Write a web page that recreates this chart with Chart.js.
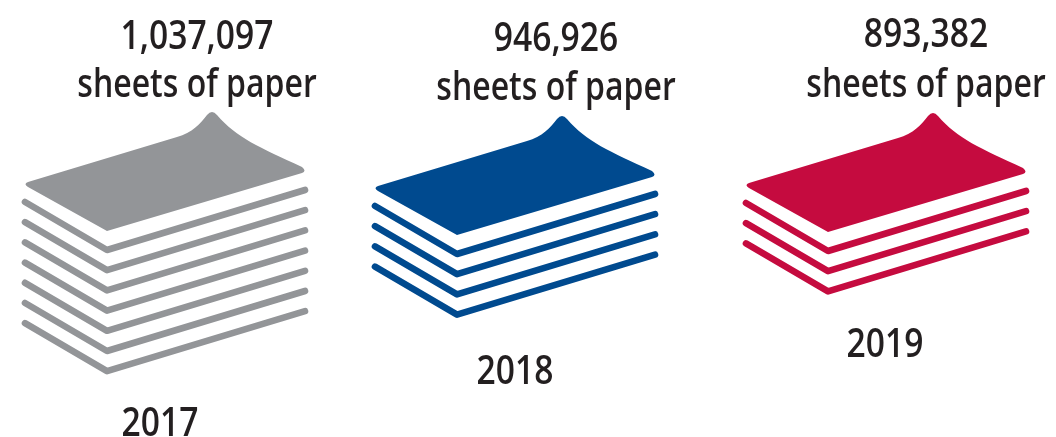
<!DOCTYPE html>
<html>
<head>
<meta charset="utf-8">
<title>Sheets of paper per year</title>
<style>
  html, body { margin: 0; padding: 0; background: #fff; }
  canvas { display: block; }
</style>
<script src="https://cdn.jsdelivr.net/npm/chart.js@4/dist/chart.umd.min.js"></script>
</head>
<body>
<canvas id="chart" width="1056" height="437"></canvas>
<script>
// Yearly paper use
const years = ['2017', '2018', '2019'];
const sheets = [1037097, 946926, 893382];
// Loose sheets drawn under the top sheet of each pile
const looseSheets = [7, 4, 3];
const pileColors = ['#939598', '#004a8f', '#c50b3f'];

// One unit on the y axis is one sheet in a pile
const SHEET_GAP = 20.2;
const ORIGIN_Y = 231;
const PLOT_HEIGHT = 437;

// Where each pile and its captions sit relative to its category centre
const placement = [
  { dx: -69, dy: 0,  captionX: 197, valueY: 49, unitY: 97,  yearX: 160, yearY: 436 },
  { dx: -71, dy: 4,  captionX: 556, valueY: 51, unitY: 100, yearX: 515, yearY: 384 },
  { dx: -52, dy: 1,  captionX: 926, valueY: 47, unitY: 97,  yearX: 885, yearY: 357 }
];

const FONT = '600 40px "Open Sans", sans-serif';
const WORD_SQUEEZE = 0.8;
const DIGIT_SQUEEZE = 0.84;
const INK = '#231f20';

// Narrow caption text, centred on x
function caption(ctx, text, x, y, squeeze) {
  ctx.save();
  ctx.translate(x, y);
  ctx.scale(squeeze, 1);
  ctx.fillText(text, 0, 0);
  ctx.restore();
}

// Top sheet with its curled corner, in pixels from the front vertex
function traceTopSheet(ctx, x, y) {
  ctx.beginPath();
  ctx.moveTo(x, y);
  ctx.lineTo(x - 79, y - 44);
  ctx.quadraticCurveTo(x - 84, y - 47, x - 79, y - 49);
  ctx.lineTo(x + 70, y - 94);
  ctx.bezierCurveTo(x + 85, y - 98, x + 94, y - 108, x + 100, y - 116);
  ctx.quadraticCurveTo(x + 105, y - 122, x + 110, y - 116);
  ctx.bezierCurveTo(x + 130, y - 93, x + 152, y - 84, x + 195, y - 64);
  ctx.quadraticCurveTo(x + 200, y - 60, x + 195, y - 58);
  ctx.closePath();
}

const paperPiles = {
  id: 'paperPiles',
  afterDatasetsDraw(chart) {
    const { ctx, scales: { y: yScale } } = chart;
    const bars = chart.getDatasetMeta(0).data;
    bars.forEach((bar, i) => {
      const place = placement[i];
      const vx = bar.x + place.dx;
      const color = pileColors[i];
      ctx.save();
      ctx.fillStyle = color;
      ctx.strokeStyle = color;
      traceTopSheet(ctx, vx, yScale.getPixelForValue(0) + place.dy);
      ctx.fill();
      ctx.lineWidth = 6.6;
      ctx.lineCap = 'round';
      ctx.lineJoin = 'round';
      for (let n = 1; n <= looseSheets[i]; n++) {
        const vy = yScale.getPixelForValue(n) + place.dy - 1.2;
        ctx.beginPath();
        ctx.moveTo(vx - 82, vy - 48);
        ctx.lineTo(vx, vy);
        ctx.lineTo(vx + 198, vy - 60);
        ctx.stroke();
      }
      ctx.fillStyle = INK;
      ctx.font = FONT;
      ctx.textAlign = 'center';
      ctx.textBaseline = 'alphabetic';
      caption(ctx, sheets[i].toLocaleString('en-US'), place.captionX, place.valueY, DIGIT_SQUEEZE);
      caption(ctx, 'sheets of paper', place.captionX, place.unitY, WORD_SQUEEZE);
      caption(ctx, years[i], place.yearX, place.yearY, DIGIT_SQUEEZE);
      ctx.restore();
    });
  }
};

new Chart(document.getElementById('chart'), {
  type: 'bar',
  data: {
    labels: years,
    datasets: [{ data: looseSheets, backgroundColor: 'rgba(0,0,0,0)', borderWidth: 0 }]
  },
  options: {
    responsive: false,
    animation: false,
    layout: { padding: 0 },
    plugins: { legend: { display: false }, tooltip: { enabled: false } },
    scales: {
      x: { display: false },
      y: {
        display: false,
        reverse: true,
        min: -ORIGIN_Y / SHEET_GAP,
        max: (PLOT_HEIGHT - ORIGIN_Y) / SHEET_GAP
      }
    }
  },
  plugins: [paperPiles]
});
</script>
</body>
</html>
